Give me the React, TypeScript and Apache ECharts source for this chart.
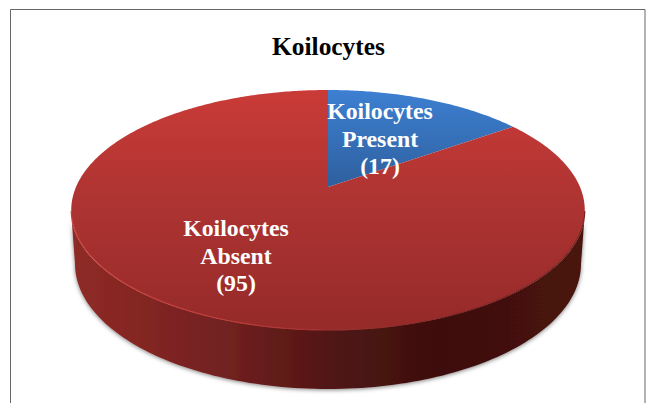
import React, { useEffect, useRef } from "react";
import * as echarts from "echarts";

const titleText = "Koilocytes";
const categories = ["Koilocytes\nPresent", "Koilocytes\nAbsent"];
const values = [17, 95];

const CX = 328, CY = 187;
const A = 252, B = 115.6, K = -0.1917;
const FONT = '"Liberation Serif", "Times New Roman", serif';

const project = (deg: number): number[] => {
  const t = (deg * Math.PI) / 180;
  const x = Math.sin(t), y = -Math.cos(t);
  const d = 1 + K * y;
  return [CX + (A * x) / d, CY + (B * y) / d];
};
const ellipse = (cx: number, cy: number, rx: number, ry: number, from: number, to: number, n = 120) => {
  const pts: number[][] = [];
  for (let i = 0; i <= n; i++) {
    const t = ((from + ((to - from) * i) / n) * Math.PI) / 180;
    pts.push([cx + rx * Math.cos(t), cy + ry * Math.sin(t)]);
  }
  return pts;
};
const grad = (x0: number, y0: number, x1: number, y1: number, stops: [number, string][]) =>
  new echarts.graphic.LinearGradient(x0, y0, x1, y1, stops.map(([offset, color]) => ({ offset, color })), true);

const topFills = [
  grad(0, 90, 0, 187, [[0, "#3d7fd2"], [0.5, "#3670b8"], [1, "#2e5f9e"]]),
  grad(0, 90, 0, 330, [[0, "#ca3b37"], [0.45, "#ae3432"], [1, "#952a29"]]),
];
const sideFill = grad(71, 0, 585, 0, [
  [0, "#8f2b27"], [0.12, "#852622"], [0.3, "#722120"], [0.42, "#5f1a18"], [0.5, "#521614"],
  [0.62, "#451211"], [0.72, "#3e0f0e"], [0.85, "#431110"], [1, "#4a1311"],
]);
const rimStroke = grad(71, 0, 585, 0, [
  [0, "#c83f3a"], [0.3, "#bd3d38"], [0.5, "#a03130"], [0.75, "#7f2624"], [1, "#7a2220"],
]);
const labelPositions = [[380, 138.5], [236, 255.5]];

const renderItem = (params: any, api: any) => {
  const i = params.dataIndex;
  const total = values.reduce((a, b) => a + b, 0);
  const before = values.slice(0, i).reduce((a, b) => a + b, 0);
  const start = (before / total) * 360;
  const end = ((before + api.value(0)) / total) * 360;
  const pts: number[][] = [[CX, CY]];
  const n = Math.ceil((end - start) * 1.5);
  for (let j = 0; j <= n; j++) pts.push(project(start + ((end - start) * j) / n));
  const children: any[] = [];
  const holdsFront = start < 180 && end > 180;
  if (holdsFront) {
    const side = [...ellipse(328, 211, 257, 119, 0, 180), ...ellipse(328, 264, 253, 125, 180, 0)];
    children.push({
      type: "polygon",
      shape: { points: side },
      style: { fill: sideFill, shadowColor: "rgba(0,0,0,0.5)", shadowBlur: 4, shadowOffsetY: 1 },
    });
  }
  children.push({ type: "polygon", shape: { points: pts }, style: { fill: topFills[i] } });
  if (holdsFront) {
    const rim: number[][] = [];
    for (let d = 258.5; d >= 101.5; d -= 1) rim.push(project(d));
    children.push({ type: "polyline", shape: { points: rim }, style: { fill: null, stroke: rimStroke, lineWidth: 1.2 } });
  }
  children.push({
    type: "text",
    z2: 10,
    style: {
      x: labelPositions[i][0],
      y: labelPositions[i][1],
      text: `${categories[i]}\n(${values[i]})`,
      fill: "#ffffff",
      font: `bold 23.8px ${FONT}`,
      lineHeight: 27.5,
      align: "center",
      verticalAlign: "middle",
    },
  });
  return { type: "group", children };
};

export default function App() {
  const ref = useRef<HTMLDivElement>(null);
  useEffect(() => {
    document.body.style.margin = "0";
    document.body.style.background = "#ffffff";
    document.body.style.overflow = "hidden";
    const chart = echarts.init(ref.current!, null, { renderer: "svg" });
    chart.setOption({
      animation: false,
      backgroundColor: "#ffffff",
      title: {
        text: titleText,
        left: 323.5,
        top: 28,
        textAlign: "center",
        textStyle: { fontFamily: FONT, fontWeight: "bold", fontSize: 25.4, color: "#000000" },
      },
      graphic: [
        {
          type: "rect",
          silent: true,
          z: -1,
          shape: { x: 10.5, y: 9.5, width: 634.5, height: 420 },
          style: { fill: "#ffffff", stroke: "#666666", lineWidth: 1 },
        },
      ],
      series: [
        {
          type: "custom",
          coordinateSystem: "none",
          silent: true,
          renderItem,
          data: values.map((v, i) => ({ name: categories[i], value: [v, 0] })),
        },
      ],
    });
    return () => chart.dispose();
  }, []);
  return <div ref={ref} style={{ position: "absolute", left: 0, top: 0, width: 646, height: 403 }} />;
}
